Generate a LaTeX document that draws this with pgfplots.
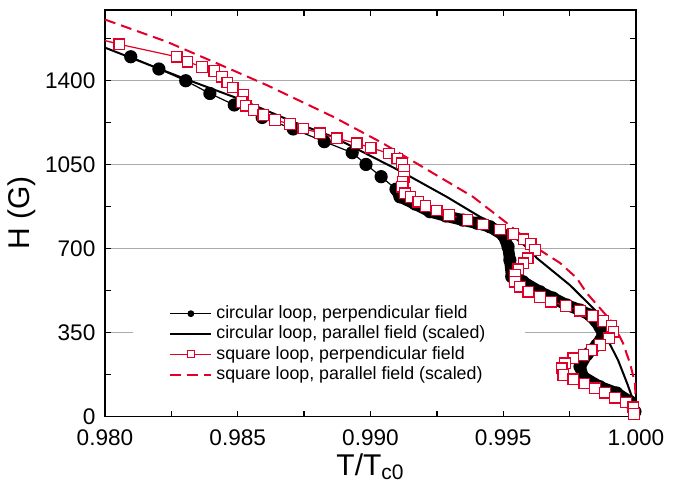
\documentclass[border=0pt]{standalone}
\usepackage{pgfplots}
\pgfplotsset{compat=1.18}
\usepackage{fontspec}
\setmainfont{Liberation Sans}
\definecolor{myred}{RGB}{226,0,40}
\begin{document}
\begin{tikzpicture}
\begin{axis}[
 name=ax,
 scale only axis, width=265.5pt, height=203.25pt,
 xmin=0.98, xmax=1.0, ymin=0, ymax=1695,
 xtick={0.98,0.985,0.99,0.995,1.0},
 minor xtick={0.9825,0.9875,0.9925,0.9975},
 ytick={0,350,700,1050,1400},
 minor ytick={175,525,875,1225,1575},
 tick align=inside,
 major tick length=3pt, minor tick length=3pt,
 ymajorgrids, grid style={draw=black!33, line width=0.6pt},
 axis line style={line width=0.8pt},
 every tick/.style={black, line width=0.7pt},
 /pgf/number format/assume math mode=true,
 xticklabel style={/pgf/number format/fixed, /pgf/number format/fixed zerofill, /pgf/number format/precision=3, yshift=-3pt},
 yticklabel style={/pgf/number format/1000 sep={}, xshift=-1.3pt},
 tick label style={font=\fontsize{11.3}{13}\selectfont},
 xlabel={T/T\textsubscript{c0}}, ylabel={H (G)},
 label style={font=\fontsize{15}{18}\selectfont},
 xlabel style={at={(axis description cs:0.5,-0.144)}, anchor=base},
 ylabel style={at={(axis description cs:-0.156,0.5)}, anchor=center},
 legend style={at={(axis description cs:0.0527,0.178)}, anchor=west, draw=none, fill=white,
   inner xsep=18pt, inner ysep=3pt, font=\fontsize{8.9}{10.5}\selectfont,
   nodes={inner ysep=1.1pt, inner xsep=2pt}},
 legend cell align=left,
 legend image code/.code={\draw[mark repeat=2,mark phase=2] plot coordinates {(0cm,0cm) (0.36cm,0cm) (0.72cm,0cm)};},
]
% circular loop, perpendicular field
\addplot[black, line width=0.6pt, mark=*, mark size=3pt, mark options={solid},
  legend image post style={mark size=1.4pt}] table {
x y
0.98097 1500
0.98203 1449
0.98304 1400
0.98395 1347
0.98487 1299
0.98592 1247
0.98709 1199
0.98826 1146
0.98931 1100
0.98983 1051
0.99040 1000
0.99096 948
0.99111 916
0.99168 886
0.99224 854
0.99284 836
0.99348 819
0.99401 806
0.99450 791
0.99499 757
0.99518 708
0.99525 652
0.99532 583
0.99574 562
0.99638 520
0.99687 494
0.99739 465
0.99789 444
0.99827 423
0.99864 374
0.99876 340
0.99852 298
0.99814 257
0.99789 208
0.99800 166
0.99864 124
0.99927 98
0.99977 62
0.99996 20
};
\addlegendentry{circular loop, perpendicular field}
\addplot[forget plot, black, line width=5.8pt, line join=round, line cap=round] table {
x y
0.99096 948
0.99111 916
0.99168 886
0.99224 854
0.99284 836
0.99348 819
0.99401 806
0.99450 791
0.99499 757
0.99518 708
0.99525 652
0.99532 583
0.99574 562
0.99638 520
0.99687 494
0.99739 465
0.99789 444
0.99827 423
0.99864 374
0.99876 340
0.99852 298
0.99814 257
0.99789 208
0.99800 166
0.99864 124
0.99927 98
0.99977 62
0.99996 20
};
% circular loop, parallel field (scaled)
\addplot[black, line width=1pt] table {
x y
0.98000 1538
0.98294 1411
0.98496 1328
0.98708 1229
0.98859 1166
0.99111 1024
0.99287 916
0.99412 833
0.99499 786
0.99601 694
0.99626 661
0.99751 548
0.99852 437
0.99887 333
0.99932 236
0.99966 140
0.99989 69
1.00000 10
};
\addlegendentry{circular loop, parallel field (scaled)}
\addplot[forget plot, myred, line width=0.7pt] coordinates {(0.9797,1576) (0.98054,1552)};
% square loop, perpendicular field
\addplot[myred, line width=0.6pt, mark=square*, mark size=2.65pt,
  mark options={solid, fill=white, draw=myred, line width=0.6pt},
  legend image post style={mark size=1.7pt}] table {
x y
0.98054 1552
0.98270 1500
0.98311 1479
0.98365 1458
0.98412 1440
0.98440 1417
0.98461 1393
0.98481 1372
0.98521 1340
0.98515 1312
0.98530 1296
0.98559 1278
0.98596 1257
0.98640 1236
0.98697 1220
0.98747 1201
0.98810 1181
0.98873 1160
0.98948 1139
0.99001 1121
0.99069 1097
0.99101 1076
0.99118 1056
0.99126 1028
0.99126 1000
0.99121 979
0.99118 958
0.99130 931
0.99151 916
0.99180 896
0.99207 878
0.99249 859
0.99296 840
0.99365 819
0.99423 801
0.99488 780
0.99538 761
0.99576 739
0.99603 719
0.99620 694
0.99592 660
0.99576 639
0.99557 614
0.99544 590
0.99544 562
0.99563 541
0.99594 520
0.99638 499
0.99680 479
0.99736 461
0.99789 441
0.99837 419
0.99877 399
0.99908 377
0.99915 354
0.99899 326
0.99864 298
0.99833 277
0.99802 257
0.99764 243
0.99733 222
0.99720 201
0.99726 173
0.99764 155
0.99805 138
0.99846 118
0.99883 99
0.99921 78
0.99962 58
0.99990 38
0.99992 10
};
\addlegendentry{square loop, perpendicular field}
% square loop, parallel field (scaled)
\addplot[myred, line width=1pt, dash pattern=on 5.5pt off 3pt] table {
x y
0.98000 1655
0.98232 1563
0.98421 1473
0.98609 1382
0.98859 1250
0.99047 1139
0.99235 1015
0.99386 916
0.99513 807
0.99638 694
0.99714 640
0.99777 577
0.99814 515
0.99864 452
0.99913 390
0.99951 306
0.99977 223
0.99996 140
1.00000 40
};
\addlegendentry{square loop, parallel field (scaled)}
\end{axis}
\pgfresetboundingbox
\path ([shift={(-52.5pt,-37.75pt)}]ax.south west) rectangle ([shift={(27pt,5pt)}]ax.north east);
\end{tikzpicture}
\end{document}
